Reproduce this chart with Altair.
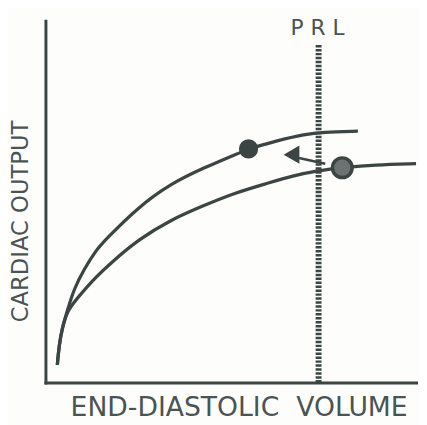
import altair as alt
import pandas as pd

INK = "#3b4544"
TEXT_INK = "#4a5453"

# Upper (shifted) Frank-Starling curve
upper_x = [3.2, 3.7, 4.5, 5.9, 7.7, 10.4, 13.8, 16.2, 25.0, 33.8, 42.8, 51.6, 54.8, 62.2, 70.2, 74.7, 84.3]
upper_y = [4.9, 10.4, 15.0, 19.9, 25.9, 31.3, 36.8, 39.5, 48.5, 55.0, 59.4, 63.2, 64.6, 66.8, 68.7, 69.2, 69.5]
# Lower curve
lower_x = [3.2, 3.7, 4.5, 5.9, 8.5, 13.0, 17.8, 25.0, 33.8, 42.8, 51.6, 59.6, 66.8, 73.7, 80.1, 88.8, 100.0]
lower_y = [4.9, 10.4, 15.0, 19.9, 23.2, 28.6, 33.2, 39.5, 45.0, 49.0, 52.6, 55.0, 57.2, 58.6, 59.4, 60.2, 60.5]

# operating points
dot_x = [54.8, 80.1]
dot_y = [64.6, 59.4]
dot_kind = ["upper", "lower"]

# PRL line
prl_x = 73.7
prl_top = 93.5
prl_label_y = 96.2

# arrow (from PRL towards the upper curve)
arrow_head = (66.4, 63.0)
arrow_tail = (75.5, 60.5)
arrow_base = (68.4, 62.1)

curves = pd.DataFrame({
    "edv": upper_x + lower_x,
    "co": upper_y + lower_y,
    "curve": ["upper"] * len(upper_x) + ["lower"] * len(lower_x),
    "order": list(range(len(upper_x))) + list(range(len(lower_x))),
})

xs = alt.Scale(domain=[0, 100], nice=False, zero=False)
ys = alt.Scale(domain=[0, 100], nice=False, zero=False)

x_axis = alt.Axis(title="END-DIASTOLIC\u00a0 VOLUME", ticks=False, labels=False, grid=False,
                  domainColor=INK, domainWidth=3, domainCap="square",
                  titleFont="DejaVu Sans", titleFontSize=27, titleFontWeight="normal",
                  titleColor=TEXT_INK, titleX=196, titleY=33, titleBaseline="alphabetic")
y_axis = alt.Axis(title="CARDIAC OUTPUT", ticks=False, labels=False, grid=False,
                  domainColor=INK, domainWidth=3, domainCap="square",
                  titleFont="DejaVu Sans", titleFontSize=23, titleFontWeight="normal",
                  titleColor=TEXT_INK, titleX=-18, titleY=203, titleBaseline="alphabetic")


def X(field):
    return alt.X(field, scale=xs, axis=x_axis)


def Y(field):
    return alt.Y(field, scale=ys, axis=y_axis)


lines = alt.Chart(curves).mark_line(color=INK, strokeWidth=3.3, interpolate="basis").encode(
    x=X("edv:Q"), y=Y("co:Q"), detail="curve:N", order="order:Q",
)

prl_df = pd.DataFrame({"edv": [prl_x], "co": [0], "co2": [prl_top]})
prl = alt.Chart(prl_df).mark_rule(color=INK, strokeWidth=6, strokeDash=[2.5, 1.5]).encode(
    x=X("edv:Q"), y=Y("co:Q"), y2="co2:Q",
)

label_df = pd.DataFrame({"edv": [prl_x - 0.3], "co": [prl_label_y], "t": ["P R L"]})
label = alt.Chart(label_df).mark_text(font="DejaVu Sans", fontSize=22, color=TEXT_INK,
                                      align="center", baseline="alphabetic").encode(
    x=X("edv:Q"), y=Y("co:Q"), text="t:N",
)

dots_df = pd.DataFrame({"edv": dot_x, "co": dot_y, "k": dot_kind})
dot_up = alt.Chart(dots_df[dots_df.k == "upper"]).mark_point(
    filled=True, color=INK, size=380, opacity=1).encode(x=X("edv:Q"), y=Y("co:Q"))
dot_lo = alt.Chart(dots_df[dots_df.k == "lower"]).mark_point(
    filled=True, fill="#6a7372", stroke=INK, strokeWidth=3.5, size=400, opacity=1).encode(
    x=X("edv:Q"), y=Y("co:Q"))

shaft_df = pd.DataFrame({"edv": [arrow_base[0], arrow_tail[0]], "co": [arrow_base[1], arrow_tail[1]]})
shaft = alt.Chart(shaft_df).mark_line(color=INK, strokeWidth=2.5).encode(x=X("edv:Q"), y=Y("co:Q"))
head_df = pd.DataFrame({"edv": [arrow_head[0]], "co": [arrow_head[1]]})
head = alt.Chart(head_df).mark_point(shape="triangle-left", filled=True, color=INK,
                                     size=340, opacity=1).encode(x=X("edv:Q"), y=Y("co:Q"))

chart = alt.layer(lines, prl, shaft, head, dot_up, dot_lo, label).properties(
    width=376, height=367,
    autosize=alt.AutoSizeParams(type="none"),
    padding={"left": 38, "top": 10, "right": 3, "bottom": 40},
    background="#fdfdfb",
).configure_view(stroke=None)

chart.save("out.html", embed_options={"renderer": "svg", "actions": False})
